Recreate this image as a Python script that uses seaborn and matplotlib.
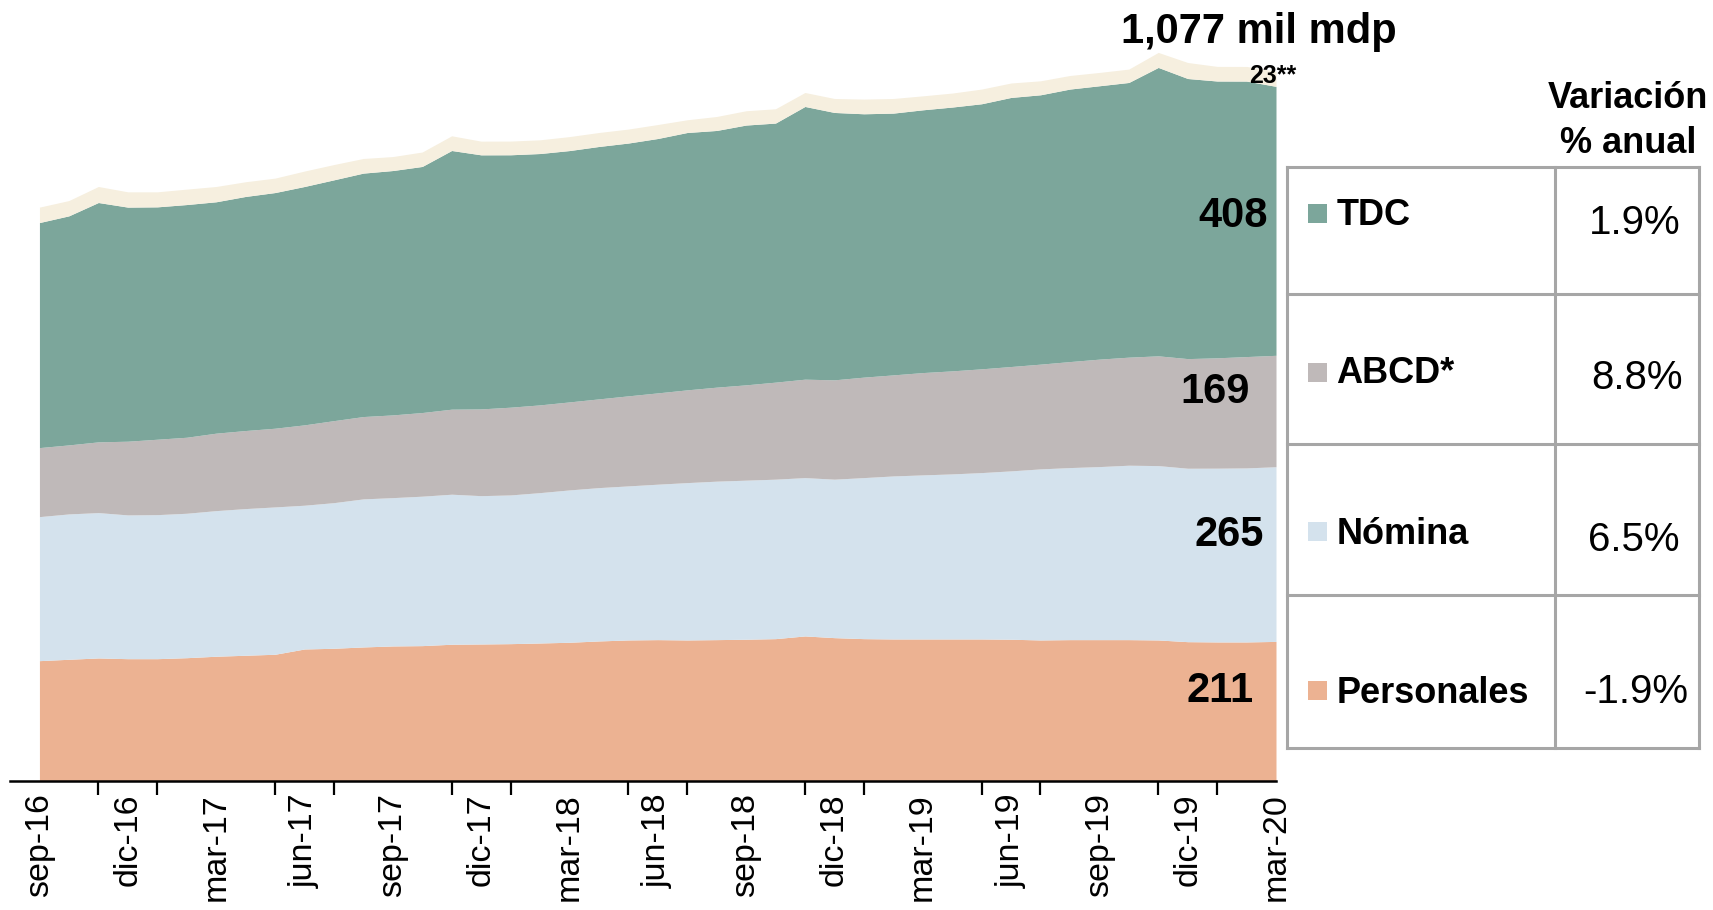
import numpy as np
import pandas as pd
import seaborn as sns
import matplotlib.pyplot as plt
from matplotlib.patches import Rectangle
from matplotlib.ticker import FixedLocator

# Saldo de crédito al consumo por tipo (miles de millones de pesos), sep-16 a mar-20
personales = [181.8, 183.9, 185.9, 184.8, 184.8, 186.3, 188.5, 190.0, 191.5, 199.5, 200.6,
              202.6, 204.1, 204.6, 206.7, 207.1, 207.6, 208.6, 209.7, 211.7, 213.2, 213.7,
              213.2, 213.7, 214.3, 215.2, 219.3, 216.7, 215.2, 214.7, 214.7, 214.7, 214.7,
              214.3, 213.2, 213.7, 213.7, 213.7, 213.2, 210.6, 210.2, 210.2, 211.0]
nomina = [218.5, 220.5, 220.5, 218.1, 218.5, 219.1, 220.9, 222.5, 223.5, 218.1, 220.9,
          224.6, 225.0, 226.7, 227.6, 225.0, 225.6, 228.1, 231.1, 232.6, 233.7, 235.8,
          238.7, 240.4, 241.3, 241.9, 240.2, 240.4, 244.3, 247.3, 248.9, 250.4, 252.4,
          255.4, 259.5, 261.0, 262.5, 264.6, 264.5, 263.1, 263.6, 264.0, 265.0]
abcd = [104.7, 104.7, 107.3, 111.8, 114.4, 115.3, 117.5, 118.4, 119.4, 121.9, 124.4,
        124.9, 125.5, 126.9, 129.0, 131.6, 133.1, 133.1, 133.5, 134.6, 136.6, 138.5,
        140.7, 142.6, 144.6, 147.2, 149.3, 150.7, 152.4, 153.3, 155.2, 156.3, 157.4,
        158.3, 158.9, 160.8, 163.0, 163.9, 166.5, 166.3, 167.4, 168.9, 169.0]
tdc = [341.4, 347.5, 363.1, 355.1, 352.5, 353.0, 351.0, 355.1, 357.5, 361.6, 365.3,
       369.3, 370.7, 373.3, 392.4, 385.4, 382.9, 381.3, 381.3, 382.9, 383.5, 385.9,
       390.4, 389.4, 394.1, 393.0, 413.7, 405.6, 399.5, 397.1, 398.6, 400.2, 402.1,
       408.2, 408.6, 413.4, 414.7, 416.7, 437.5, 424.9, 419.9, 417.9, 408.0]
otros = [23.4, 23.2, 24.3, 23.2, 22.8, 23.4, 23.2, 22.3, 21.9, 23.4, 23.2, 22.2, 21.2,
         21.9, 22.3, 20.8, 20.8, 20.8, 21.2, 21.2, 21.2, 21.2, 19.3, 21.2, 21.7, 21.7,
         21.2, 21.2, 22.3, 22.2, 21.2, 21.2, 22.3, 21.9, 21.2, 20.6, 20.2, 20.3, 22.8,
         24.3, 22.2, 22.2, 23.0]

tick_labels = ["sep-16", "dic-16", "mar-17", "jun-17", "sep-17", "dic-17", "mar-18",
               "jun-18", "sep-18", "dic-18", "mar-19", "jun-19", "sep-19", "dic-19", "mar-20"]

tabla_nombres = ["TDC", "ABCD*", "Nómina", "Personales"]
tabla_variacion = ["1.9%", "8.8%", "6.5%", "-1.9%"]
ultimos = ["408", "169", "265", "211"]

colores = {"Personales": "#ECB292", "Nómina": "#D4E2ED", "ABCD*": "#BFB9B9",
           "TDC": "#7CA69B", "Otros": "#F6EFDF"}

df = pd.DataFrame({"Personales": personales, "Nómina": nomina, "ABCD*": abcd,
                   "TDC": tdc, "Otros": otros})

sns.set_theme(style="white")
plt.rcParams['font.family'] = ['Liberation Sans', 'DejaVu Sans']
plt.rcParams['text.color'] = 'black'
plt.rcParams['xtick.color'] = 'black'
plt.rcParams['xtick.labelcolor'] = 'black'

W, H = 1713, 910
fig = plt.figure(figsize=(W / 100, H / 100), dpi=100)
ax = fig.add_axes([10 / W, 129.5 / H, 1266 / W, 780.5 / H])

x = np.arange(len(df))
ax.stackplot(x, *[df[c] for c in df.columns],
             colors=[colores[c] for c in df.columns], linewidth=0)
ax.set_xlim(-1, len(df) - 1)
ax.set_ylim(0, 1184)

# etiquetas cada trimestre, marcas cada dos meses
ax.set_xticks(np.arange(0, len(df), 3))
ax.set_xticklabels(tick_labels, rotation=90, fontsize=24.5, color="black")
ax.xaxis.set_minor_locator(FixedLocator(np.arange(0, len(df), 2)))
ax.tick_params(axis="x", which="major", length=0, pad=9, bottom=True, labelcolor="black")
ax.tick_params(axis="x", which="minor", length=10, width=1.6, color="black",
               direction="out", bottom=True)
ax.set_yticks([])
for s in ["left", "top", "right"]:
    ax.spines[s].set_visible(False)
ax.spines["bottom"].set_color("black")
ax.spines["bottom"].set_linewidth(1.8)

# capa superior en pixeles para textos y tabla
ov = fig.add_axes([0, 0, 1, 1], facecolor="none")
ov.set_xlim(0, W)
ov.set_ylim(H, 0)
ov.axis("off")

ov.text(1259, 43, "1,077 mil mdp", fontsize=30, fontweight="bold", ha="center",
        va="baseline", color="black")
ov.text(1249, 83, "23**", fontsize=18, fontweight="bold", ha="left", va="baseline",
        color="black")

etiquetas_pos = [(1268, 226.7), (1250, 403.3), (1263.6, 546), (1254, 701.7)]
for txt, (px, py) in zip(ultimos, etiquetas_pos):
    ov.text(px, py, txt, fontsize=30, fontweight="bold", ha="right", va="baseline",
            color="black")

# tabla de variación anual
gris = "#A6A6A6"
x0, xm, x1 = 1287, 1555, 1699
filas = [166.7, 294.3, 444.3, 595.3, 748.3]
for y in filas:
    ov.plot([x0, x1], [y, y], color=gris, lw=2.2, solid_capstyle="projecting")
for xx in [x0, xm, x1]:
    ov.plot([xx, xx], [filas[0], filas[-1]], color=gris, lw=2.2, solid_capstyle="projecting")

ov.text(1628, 108.3, "Variación", fontsize=26, fontweight="bold", ha="center",
        va="baseline", color="black")
ov.text(1628, 153.3, "% anual", fontsize=26, fontweight="bold", ha="center",
        va="baseline", color="black")

nombre_base = [225, 383, 544, 702.7]
cuadro_top = [204, 363, 522, 681]
var_pos = [(1680.5, 234.3), (1682.5, 389), (1679.6, 551), (1688, 702.7)]
for nombre, var, yb, yc, (vx, vy) in zip(tabla_nombres, tabla_variacion, nombre_base,
                                          cuadro_top, var_pos):
    ov.add_patch(Rectangle((1308, yc), 19, 19, facecolor=colores[nombre], edgecolor="none"))
    ov.text(1336.5, yb, nombre, fontsize=26, fontweight="bold", ha="left", va="baseline",
            color="black")
    ov.text(vx, vy, var, fontsize=29, ha="right", va="baseline", color="black")

fig.savefig("out.png", dpi=100)
